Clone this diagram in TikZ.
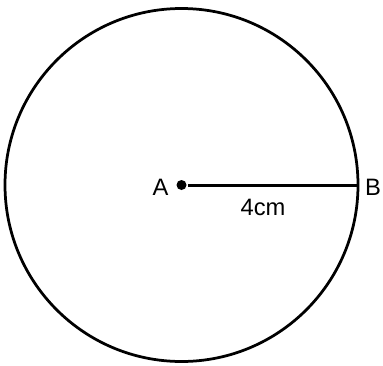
\documentclass[tikz,border=0pt]{standalone}
\usepackage{fontspec}
\setmainfont{Liberation Sans}
\usepackage{tikz}

\begin{document}
\begin{tikzpicture}[line width=0.6mm]

    \useasboundingbox (-3.63,-3.6) rectangle (4.03,3.7);

    \draw[line width=0.55mm] (0,0) circle (3.53cm);

    \node[circle,fill=black,inner sep=0pt,minimum size=0.2cm] (A) at (0,0) {};
    \coordinate (B) at (3.53,0);
    \draw (A) -- (B);

    \node[font=\fontsize{13.5}{15}\selectfont] (labA) at (-0.42,-0.04) {A};
    \node[font=\fontsize{13.5}{15}\selectfont] (labB) at (3.83,-0.04) {B};
    \node[font=\fontsize{13.5}{15}\selectfont] (len) at (1.63,-0.44) {4cm};
  \end{tikzpicture}
\end{document}
